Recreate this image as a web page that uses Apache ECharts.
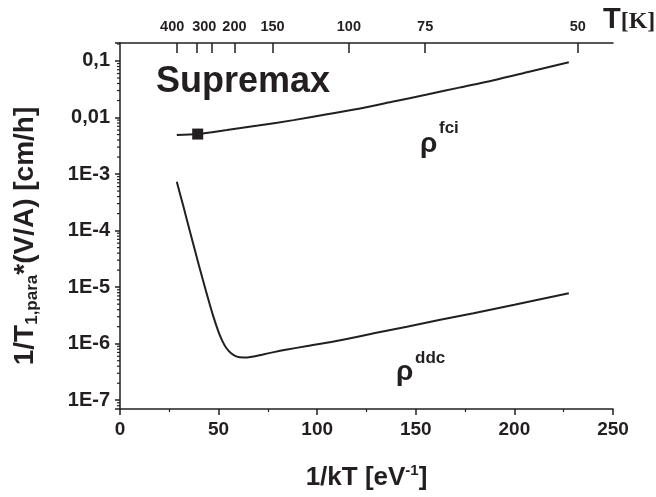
<!DOCTYPE html>
<html>
<head>
<meta charset="utf-8">
<script src="https://cdn.jsdelivr.net/npm/echarts@6/dist/echarts.min.js"></script>
<style>
html, body { margin: 0; padding: 0; background: #fff; }
#main { width: 656px; height: 497px; }
</style>
</head>
<body>
<div id="main"></div>
<script>
var ink = '#231f20';
var sans = '"Liberation Sans", Arial, sans-serif';

// rho_fci curve, x = 1/kT [eV^-1], y = 1/T1,para*(V/A) [cm/h]
var fciX = [28.8, 39.4, 54.2, 70, 88, 105, 121.8, 138, 155.7, 172, 189.5, 208, 227.6];
var fciY = [0.0049, 0.0051, 0.0060, 0.0072, 0.0090, 0.0114, 0.0145, 0.0190, 0.0255, 0.0338, 0.0457, 0.0652, 0.095];

// rho_ddc curve
var ddcX = [28.8, 32, 36, 40, 44, 47, 50, 52, 54, 56.5, 59.2, 62.6, 67, 72, 78, 84, 95, 111.7, 130, 145.5, 162.4, 179.3, 200, 227.6];
var ddcY = [7.3e-4, 2.8e-4, 8.2e-5, 2.45e-5, 7.6e-6, 3.3e-6, 1.6e-6, 1.1e-6, 8.3e-7, 6.7e-7, 5.9e-7, 5.7e-7, 5.9e-7, 6.4e-7, 7.1e-7, 7.8e-7, 9.1e-7, 1.15e-6, 1.56e-6, 2.0e-6, 2.65e-6, 3.47e-6, 4.9e-6, 7.8e-6];

// single measured point (square)
var pointX = [39.4];
var pointY = [0.0051];

// axis labels
var yDecades = [-7, -6, -5, -4, -3, -2, -1];
var yDecadeLabels = ['1E-7', '1E-6', '1E-5', '1E-4', '1E-3', '0,01', '0,1'];
var tempTicks = [400, 300, 250, 200, 150, 100, 75, 50];
var tempLabels = [400, 300, 200, 150, 100, 75, 50];
var KB = 8.617e-5; // eV/K

var yMin = 7.0e-8, yMax = 0.208;

function zip(xs, ys) {
    return xs.map(function (x, i) { return [x, ys[i]]; });
}

// log-spaced minor ticks of the y axis (2..9 per decade)
var yMinor = [];
for (var e = -8; e <= -1; e++) {
    for (var m = 2; m <= 9; m++) {
        var v = m * Math.pow(10, e);
        if (v > yMin && v < yMax) yMinor.push([0, v]);
    }
}

var chart = echarts.init(document.getElementById('main'));

chart.setOption({
    animation: false,
    backgroundColor: '#fff',
    grid: { left: 120, right: 43, top: 43, bottom: 88, containLabel: false, outerBoundsMode: 'none' },
    xAxis: [{
        type: 'value',
        min: 0, max: 250, interval: 50,
        splitLine: { show: false },
        axisLine: { lineStyle: { color: ink, width: 1.5 } },
        axisTick: { length: 6, lineStyle: { color: ink, width: 1.5 } },
        minorTick: { show: true, splitNumber: 2, length: 3, lineStyle: { color: ink, width: 1.2 } },
        axisLabel: { color: ink, fontFamily: sans, fontWeight: 'bold', fontSize: 19, margin: 11 },
        name: '{m|1/kT [eV}{p|-1}{m|]}',
        nameLocation: 'middle',
        nameGap: 54,
        nameTextStyle: {
            rich: {
                m: { fontFamily: sans, fontWeight: 'bold', fontSize: 26, color: ink, lineHeight: 30 },
                p: { fontFamily: sans, fontWeight: 'bold', fontSize: 15, color: ink, lineHeight: 15, verticalAlign: 'top' }
            }
        }
    }, {
        type: 'value',
        position: 'top',
        min: 0, max: 250,
        splitLine: { show: false },
        axisLine: { lineStyle: { color: ink, width: 1.5 } },
        axisTick: {
            inside: true, length: 10,
            customValues: tempTicks.map(function (t) { return 1 / (KB * t); }),
            lineStyle: { color: ink, width: 1.5 }
        },
        axisLabel: {
            customValues: tempLabels.map(function (t) { return 1 / (KB * t); }),
            color: ink, fontFamily: sans, fontWeight: 'bold', fontSize: 14.5, margin: 9,
            formatter: function (v) {
                var t = Math.round(1 / (KB * v));
                if (t === 400) return '{l|400}';
                if (t === 300) return '{r|300}';
                return String(t);
            },
            rich: {
                l: { padding: [0, 10, 0, 0] },
                r: { padding: [0, 0, 0, 16] }
            }
        }
    }],
    yAxis: {
        type: 'log',
        logBase: 10,
        min: yMin, max: yMax,
        splitLine: { show: false },
        axisLine: { lineStyle: { color: ink, width: 1.5 } },
        axisTick: { length: 5, lineStyle: { color: ink, width: 1.5 } },
        axisLabel: {
            color: ink, fontFamily: sans, fontWeight: 'bold', fontSize: 20, margin: 10,
            formatter: function (v) {
                var lg = Math.log10(v);
                var e = Math.round(lg);
                if (Math.abs(lg - e) > 1e-6) return '';
                var i = yDecades.indexOf(e);
                return i < 0 ? '' : yDecadeLabels[i];
            }
        },
        name: '{m|1/T}{s|1,para}{m|*(V/A) [cm/h]}',
        nameLocation: 'middle',
        nameRotate: 90,
        nameGap: 79,
        nameTextStyle: {
            padding: [0, 20, 0, 0],
            rich: {
                m: { fontFamily: sans, fontWeight: 'bold', fontSize: 28, color: ink, lineHeight: 32 },
                s: { fontFamily: sans, fontWeight: 'bold', fontSize: 17, color: ink, lineHeight: 17, verticalAlign: 'bottom' }
            }
        }
    },
    series: [{
        name: 'fci',
        type: 'line',
        data: zip(fciX, fciY),
        showSymbol: false,
        smooth: 0.3,
        lineStyle: { color: ink, width: 2 }
    }, {
        name: 'ddc',
        type: 'line',
        data: zip(ddcX, ddcY),
        showSymbol: false,
        smooth: 0.3,
        lineStyle: { color: ink, width: 2 }
    }, {
        name: 'point',
        type: 'scatter',
        data: zip(pointX, pointY),
        symbol: 'rect',
        symbolSize: 11,
        itemStyle: { color: ink, opacity: 1 },
        z: 5
    }, {
        name: 'yMinorTicks',
        type: 'custom',
        clip: false,
        silent: true,
        data: yMinor,
        renderItem: function (params, api) {
            var p = api.coord([api.value(0), api.value(1)]);
            return {
                type: 'line',
                shape: { x1: p[0] - 3, y1: p[1], x2: p[0], y2: p[1] },
                style: { stroke: ink, lineWidth: 1.2 }
            };
        }
    }],
    graphic: [{
        type: 'text', left: 156, top: 64,
        style: { text: 'Supremax', fontFamily: sans, fontWeight: 'bold', fontSize: 36, fill: ink }
    }, {
        type: 'text', left: 420, top: 130,
        style: { text: 'ρ', fontFamily: sans, fontWeight: 'bold', fontSize: 28, fill: ink }
    }, {
        type: 'text', left: 439, top: 120,
        style: { text: 'fci', fontFamily: sans, fontWeight: 'bold', fontSize: 17, fill: ink }
    }, {
        type: 'text', left: 396, top: 358,
        style: { text: 'ρ', fontFamily: sans, fontWeight: 'bold', fontSize: 28, fill: ink }
    }, {
        type: 'text', left: 415, top: 350,
        style: { text: 'ddc', fontFamily: sans, fontWeight: 'bold', fontSize: 17, fill: ink }
    }, {
        type: 'text', left: 603, top: 5,
        style: {
            text: '{t|T}{k|[K]}',
            rich: {
                t: { fontFamily: sans, fontWeight: 'bold', fontSize: 29, fill: ink, verticalAlign: 'bottom' },
                k: { fontFamily: '"Liberation Serif", "Times New Roman", serif', fontWeight: 'bold', fontSize: 24, fill: ink, verticalAlign: 'bottom' }
            }
        }
    }]
});
</script>
</body>
</html>
